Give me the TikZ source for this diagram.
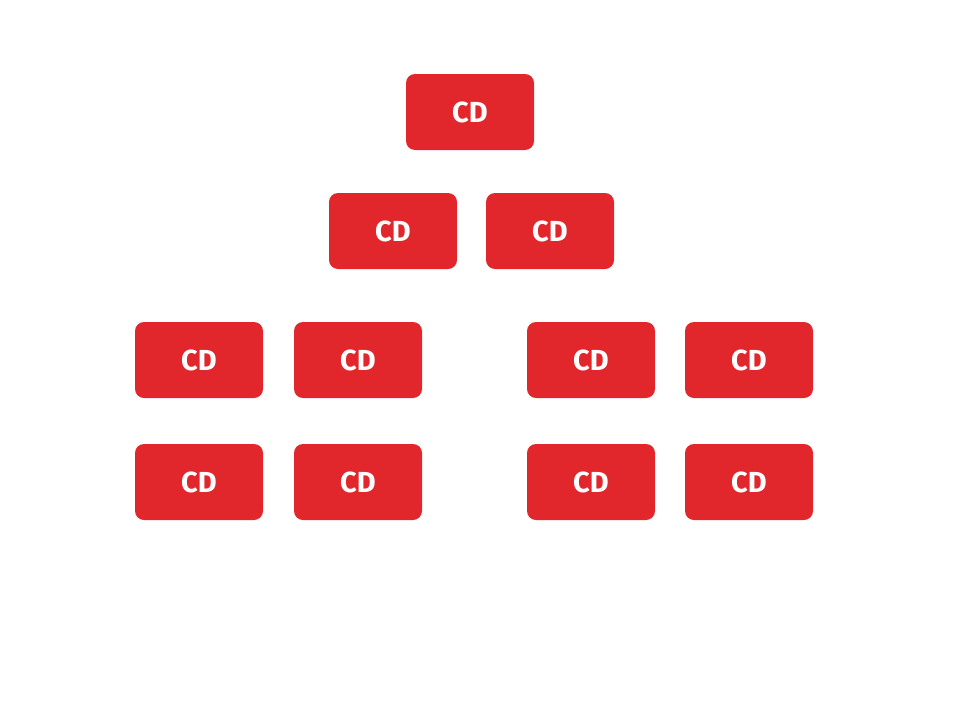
\documentclass[tikz,border=0pt]{standalone}
\usepackage{fontspec}
\setsansfont{Fira Sans}
\usepackage{tikz}
\usetikzlibrary{positioning}
\definecolor{cdred}{HTML}{E1272B}
\tikzset{
    cdbox/.style={fill=cdred, rounded corners=9pt, minimum width=128pt, minimum height=76pt, inner sep=0pt, text=white, font=\sffamily\bfseries\fontsize{29}{34}\selectfont}
}

\begin{document}
\begin{tikzpicture}[x=1pt, y=-1pt]
\useasboundingbox (0,0) rectangle (960,720);

% top
\node[cdbox] (top) at (470,112) {CD};

% second row
\node[cdbox] (midL) at (393,231) {CD};
\node[cdbox] (midR) at (550,231) {CD};

% left group
\node[cdbox] (l1) at (199,360) {CD};
\node[cdbox] (l2) at (358,360) {CD};
\node[cdbox] (l3) at (199,482) {CD};
\node[cdbox] (l4) at (358,482) {CD};

% right group
\node[cdbox] (r1) at (591,360) {CD};
\node[cdbox] (r2) at (749,360) {CD};
\node[cdbox] (r3) at (591,482) {CD};
\node[cdbox] (r4) at (749,482) {CD};

\end{tikzpicture}
\end{document}
